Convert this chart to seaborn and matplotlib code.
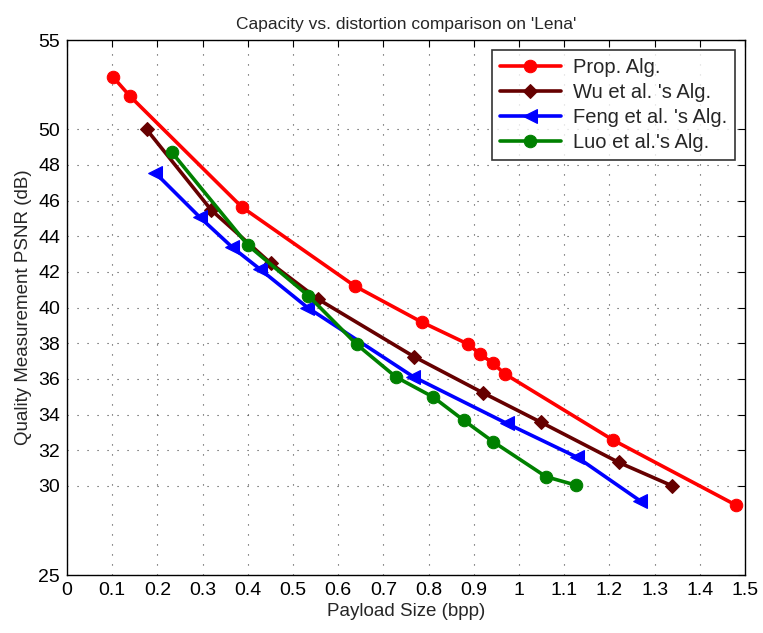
import numpy as np
import pandas as pd
import matplotlib
matplotlib.use("Agg")
import matplotlib.pyplot as plt
import seaborn as sns

# Data
prop_x = [0.102, 0.139, 0.387, 0.637, 0.785, 0.887, 0.914, 0.942, 0.969, 1.208, 1.480]
prop_y = [52.92, 51.86, 45.63, 41.20, 39.18, 37.95, 37.39, 36.88, 36.27, 32.57, 28.92]

wu_x = [0.176, 0.319, 0.451, 0.556, 0.768, 0.920, 1.049, 1.221, 1.339]
wu_y = [49.99, 45.47, 42.48, 40.46, 37.24, 35.22, 33.56, 31.31, 30.00]

feng_x = [0.195, 0.294, 0.366, 0.427, 0.532, 0.766, 0.973, 1.129, 1.268]
feng_y = [47.56, 45.06, 43.37, 42.15, 40.00, 36.12, 33.50, 31.60, 29.16]

luo_x = [0.232, 0.400, 0.534, 0.641, 0.728, 0.810, 0.878, 0.943, 1.060, 1.126]
luo_y = [48.70, 43.50, 40.66, 37.93, 36.10, 34.98, 33.67, 32.47, 30.51, 30.04]

series_labels = ["Prop. Alg.", "Wu et al. 's Alg.", "Feng et al. 's Alg.", "Luo et al.'s Alg."]
x_ticks = np.round(np.arange(0, 1.51, 0.1), 1)
x_tick_labels = ["0", "0.1", "0.2", "0.3", "0.4", "0.5", "0.6", "0.7", "0.8", "0.9",
                 "1", "1.1", "1.2", "1.3", "1.4", "1.5"]
y_ticks = [25, 30, 32, 34, 36, 38, 40, 42, 44, 46, 48, 50, 55]

sns.set_style("white")
plt.rcParams['font.family'] = ['Liberation Sans', 'DejaVu Sans']

fig = plt.figure(figsize=(7.63, 6.33), dpi=100)
ax = fig.add_axes([0.0878, 0.0916, 0.8886, 0.8452])

styles = [
    (prop_x, prop_y, "o", "#ff0000", 9),
    (wu_x, wu_y, "D", "#660000", 7.5),
    (feng_x, feng_y, "<", "#0000ff", 10),
    (luo_x, luo_y, "o", "#008000", 9),
]
for (xs, ys, mk, col, ms), lab in zip(styles, series_labels):
    df = pd.DataFrame({"x": xs, "y": ys})
    sns.lineplot(data=df, x="x", y="y", ax=ax, sort=False, color=col, linewidth=2.6,
                 marker=mk, markersize=ms, markeredgecolor=col, markerfacecolor=col,
                 label=lab)

ax.set_xlim(0, 1.5)
ax.set_ylim(25, 55)
ax.set_xticks(x_ticks)
ax.set_xticklabels(x_tick_labels)
ax.set_yticks(y_ticks)
ax.grid(True, linestyle=(0, (1, 8)), color="#444444", linewidth=0.8)
ax.set_axisbelow(True)
ax.tick_params(direction="in", top=True, right=True, length=5, width=0.8,
               labelsize=14, colors="black", pad=5)
for s in ax.spines.values():
    s.set_color("black")
    s.set_linewidth(1.0)

ax.set_xlabel("Payload Size (bpp)", fontsize=13.5, labelpad=3)
ax.set_ylabel("Quality Measurement PSNR (dB)", fontsize=13.5, labelpad=4)
ax.set_title("Capacity vs. distortion comparison on 'Lena'", fontsize=12.5, pad=8)

leg = ax.legend(loc="upper right", fontsize=14.5, frameon=True, fancybox=False,
                edgecolor="black", borderaxespad=0.5, handlelength=3.0,
                labelspacing=0.3, borderpad=0.4, handletextpad=0.6)
leg.get_frame().set_linewidth(1.2)

fig.savefig("out.png", dpi=100)
